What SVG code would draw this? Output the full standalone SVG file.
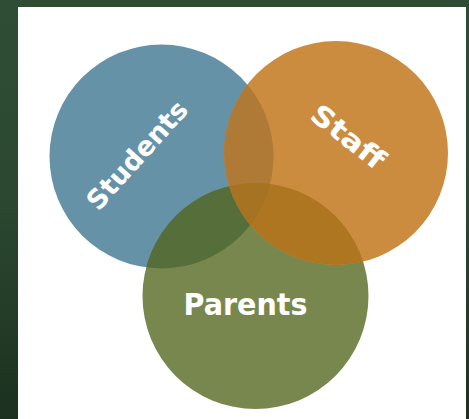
<svg xmlns="http://www.w3.org/2000/svg" width="469" height="419" viewBox="0 0 469 419">
  <defs>
    <linearGradient id="bg" x1="0" y1="0" x2="0" y2="1">
      <stop offset="0" stop-color="#2f4d34"/>
      <stop offset="0.5" stop-color="#2b4730"/>
      <stop offset="1" stop-color="#1c3120"/>
    </linearGradient>
    <clipPath id="clipStudents"><circle cx="161.5" cy="156.5" r="112"/></clipPath>
    <clipPath id="clipParents"><circle cx="255.5" cy="296" r="113"/></clipPath>
    <style>
      .lbl { font-family: "DejaVu Sans", "Liberation Sans", sans-serif; font-weight: bold; fill: #ffffff; text-anchor: middle; }
    </style>
  </defs>
  <rect x="0" y="0" width="469" height="419" fill="url(#bg)"/>
  <rect x="18" y="7" width="448" height="412" fill="#ffffff"/>

  <g id="students">
    <circle cx="161.5" cy="156.5" r="112" fill="#6692a8"/>
  </g>
  <g id="parents">
    <circle cx="255.5" cy="296" r="113" fill="#78874e"/>
  </g>
  <g id="staff">
    <circle cx="336" cy="153" r="112" fill="#cb8c40"/>
  </g>

  <g id="overlaps">
    <circle cx="255.5" cy="296" r="113" fill="#566e3a" clip-path="url(#clipStudents)"/>
    <circle cx="336" cy="153" r="112" fill="#ae7a36" clip-path="url(#clipStudents)"/>
    <circle cx="336" cy="153" r="112" fill="#ae7620" clip-path="url(#clipParents)"/>
    <g clip-path="url(#clipStudents)">
      <circle cx="336" cy="153" r="112" fill="#a67322" clip-path="url(#clipParents)"/>
    </g>
  </g>

  <g id="labels">
    <text class="lbl" x="0" y="0" font-size="27" textLength="136" lengthAdjust="spacingAndGlyphs" dominant-baseline="central" transform="translate(137,155) rotate(-48)">Students</text>
    <text class="lbl" x="0" y="0" font-size="28" textLength="86" lengthAdjust="spacingAndGlyphs" dominant-baseline="central" transform="translate(348,137) rotate(38)">Staff</text>
    <text class="lbl" x="245.5" y="315" font-size="30" textLength="124" lengthAdjust="spacingAndGlyphs">Parents</text>
  </g>
</svg>
